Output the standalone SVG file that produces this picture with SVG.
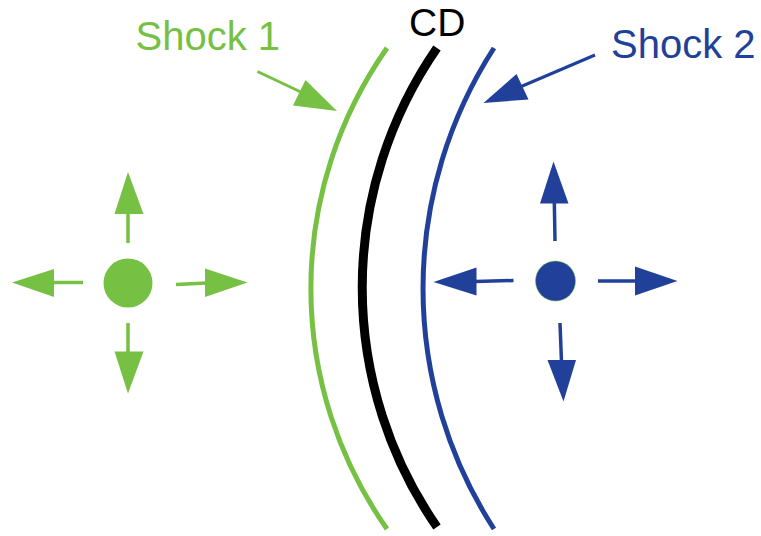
<svg xmlns="http://www.w3.org/2000/svg" width="761" height="536" viewBox="0 0 761 536">
<style>
.g{fill:#76c043}
.b{fill:#21409a}
.gl{stroke:#76c043;fill:none}
.bl{stroke:#21409a;fill:none}
.t{font-family:"Liberation Sans",Arial,sans-serif}
</style>
<rect width="761" height="536" fill="#fff"/>
<g id="arcs">
<path id="shock1-front" class="gl" stroke-width="5" d="M387 48 A418 418 0 0 0 387 529"/>
<path id="cd-front" fill="none" stroke="#000" stroke-width="9" d="M437 48 A421 421 0 0 0 437 527"/>
<path id="shock2-front" class="bl" stroke-width="5" d="M494 48 A443 443 0 0 0 494 529"/>
</g>
<g id="labels" class="t">
<text id="label-shock1" x="135.5" y="49.5" font-size="40" fill="#76c043">Shock 1</text>
<text id="label-cd" x="409" y="35.5" font-size="39" fill="#000">CD</text>
<text id="label-shock2" x="611" y="57.5" font-size="40" fill="#21409a">Shock 2</text>
</g>
<g id="green-blob">
<circle class="g" cx="128" cy="283" r="24.5"/>
</g>
<g id="blue-blob">
<circle class="b" cx="555.5" cy="281" r="20" stroke="#76c043" stroke-width="0.5"/>
</g>
<g id="connectors">
<g id="green-arrows">
<line class="gl" stroke-width="3.5" x1="128" y1="243" x2="128" y2="212"/>
<polygon class="g" points="128,172 143.5,214 114.5,214"/>
<line class="gl" stroke-width="3.5" x1="83" y1="282.5" x2="52" y2="282.5"/>
<polygon class="g" points="12,282.5 54,269 54,297"/>
<line class="gl" stroke-width="3.5" x1="176" y1="284.5" x2="207" y2="283"/>
<polygon class="g" points="247.5,282.5 205,268.5 205,297"/>
<line class="gl" stroke-width="3.5" x1="128" y1="323" x2="128" y2="354"/>
<polygon class="g" points="128,393.5 114.5,351.5 143.5,351.5"/>
</g>
<g id="blue-arrows">
<line class="bl" stroke-width="3.5" x1="555" y1="241" x2="554.3" y2="201"/>
<polygon class="b" points="553.5,161.5 568.5,203.5 540,203.5"/>
<line class="bl" stroke-width="3.5" x1="513.5" y1="280.5" x2="475" y2="281.5"/>
<polygon class="b" points="433.5,282 476.5,267.5 476.5,295.5"/>
<line class="bl" stroke-width="3.5" x1="598" y1="281" x2="637" y2="281"/>
<polygon class="b" points="677.5,281 635,266.5 635,295.5"/>
<line class="bl" stroke-width="3.5" x1="560" y1="323" x2="561.5" y2="362"/>
<polygon class="b" points="563.5,401.5 547.5,360 576,360"/>
</g>
<g id="label-arrows">
<line class="gl" stroke-width="3" x1="257.5" y1="71.5" x2="305" y2="94"/>
<polygon class="g" points="337,111 305.5,80 293,105.5"/>
<line class="bl" stroke-width="3" x1="595" y1="55" x2="520" y2="87"/>
<polygon class="b" points="483.5,103 516.5,74 528.5,99.5"/>
</g>
</g>
</svg>
